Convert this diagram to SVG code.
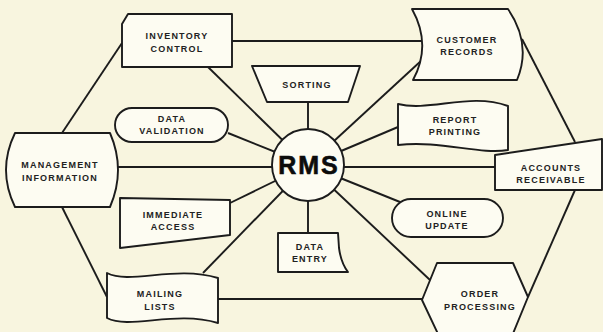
<svg xmlns="http://www.w3.org/2000/svg" width="603" height="332" viewBox="0 0 603 332">
<style>
.bg{fill:#f8f5df}
.n{fill:#fdfcf2;stroke:#1c1c1c;stroke-width:1.9;stroke-linejoin:round}
.c line{stroke:#1c1c1c;stroke-width:1.9}
text{font-family:"Liberation Sans",Arial,sans-serif;font-weight:bold;font-size:9px;letter-spacing:1.2px;fill:#222;text-anchor:middle}
.big{font-size:25px;letter-spacing:2px;fill:#0c0c0c;stroke:#0c0c0c;stroke-width:0.6}
</style>
<rect class="bg" x="0" y="0" width="603" height="332"/>
<g class="c">
<line x1="232" y1="41" x2="422" y2="41"/>
<line x1="522" y1="39" x2="575" y2="142"/>
<line x1="575" y1="190" x2="528" y2="297"/>
<line x1="218" y1="299" x2="422" y2="299"/>
<line x1="107" y1="297" x2="62" y2="207"/>
<line x1="62" y1="133" x2="122" y2="43"/>
<line x1="208" y1="67" x2="308" y2="165"/>
<line x1="308" y1="102" x2="308" y2="165"/>
<line x1="422" y1="60" x2="308" y2="165"/>
<line x1="228" y1="133" x2="308" y2="165"/>
<line x1="398" y1="127" x2="308" y2="165"/>
<line x1="117" y1="167" x2="495" y2="167"/>
<line x1="230" y1="203" x2="308" y2="165"/>
<line x1="308" y1="165" x2="308" y2="233"/>
<line x1="203" y1="273" x2="308" y2="165"/>
<line x1="400" y1="202" x2="308" y2="165"/>
<line x1="430" y1="280" x2="308" y2="165"/>
</g>
<g id="rms"><circle class="n" cx="308" cy="165" r="36"/><text class="big" x="309" y="174">RMS</text></g>
<g id="inventory-control"><path class="n" d="M128,14 L232,14 L232,67 L122,67 L122,24 Z"/><text x="177" y="39">INVENTORY</text><text x="177" y="52">CONTROL</text></g>
<g id="customer-records"><path class="n" d="M412,9 L508,9 Q532,44 517,80 L413,80 Q432,45 412,9 Z"/><text x="467" y="43">CUSTOMER</text><text x="467" y="55">RECORDS</text></g>
<g id="sorting"><path class="n" d="M252,66 L360,66 L348,102 L267,102 Z"/><text x="307" y="88">SORTING</text></g>
<g id="data-validation"><rect class="n" x="115" y="108" width="113" height="34" rx="17"/><text x="172" y="122">DATA</text><text x="172" y="134">VALIDATION</text></g>
<g id="report-printing"><path class="n" d="M398,104 C430,112 470,92 508,106 L508,150 C480,155 440,140 398,145 Z"/><text x="455" y="123">REPORT</text><text x="455" y="135">PRINTING</text></g>
<g id="management-information"><path class="n" d="M15,133 L110,133 Q126,170 110,207 L15,207 Q-3,170 15,133 Z"/><text x="60" y="168">MANAGEMENT</text><text x="60" y="181">INFORMATION</text></g>
<g id="accounts-receivable"><path class="n" d="M495,155 L602,139 L602,190 L495,190 Z"/><text x="551" y="171">ACCOUNTS</text><text x="551" y="183">RECEIVABLE</text></g>
<g id="immediate-access"><path class="n" d="M120,198 L230,200 L230,235 L120,248 Z"/><text x="173" y="218">IMMEDIATE</text><text x="173" y="230">ACCESS</text></g>
<g id="online-update"><rect class="n" x="392" y="199" width="111" height="38" rx="19"/><text x="447" y="217">ONLINE</text><text x="447" y="229">UPDATE</text></g>
<g id="data-entry"><path class="n" d="M278,233 L338,233 L339,248 Q341,263 348,272 L278,272 Z"/><text x="310" y="250">DATA</text><text x="310" y="262">ENTRY</text></g>
<g id="mailing-lists"><path class="n" d="M107,273 C130,285 175,265 218,278 L218,323 C175,310 130,330 107,318 Z"/><text x="160" y="297">MAILING</text><text x="160" y="310">LISTS</text></g>
<g id="order-processing"><path class="n" d="M437,263 L513,263 L528,297 L512,336 L439,336 L422,300 Z"/><text x="480" y="297">ORDER</text><text x="480" y="310">PROCESSING</text></g>
</svg>
